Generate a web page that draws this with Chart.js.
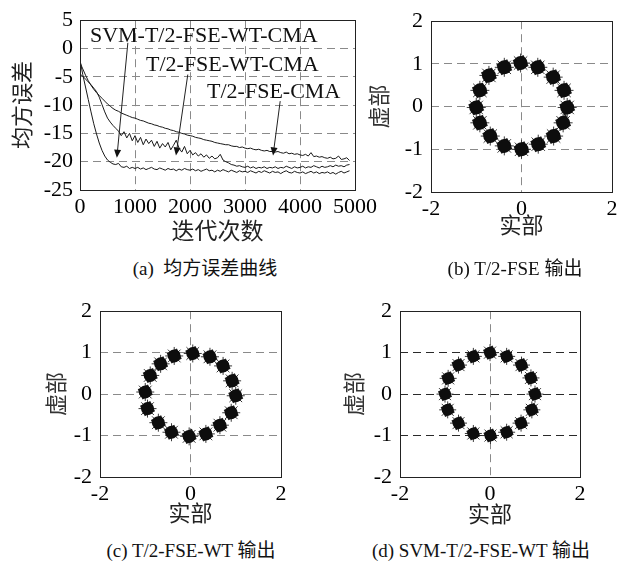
<!DOCTYPE html>
<html>
<head>
<meta charset="utf-8">
<script src="https://cdn.jsdelivr.net/npm/chart.js@4.4.0/dist/chart.umd.min.js"></script>
<style>
  body { margin: 0; background: #fff; width: 627px; height: 561px; position: relative; overflow: hidden; }
  canvas { position: absolute; }
  .cap { position: absolute; font: 19px 'Liberation Serif', 'Noto Sans CJK SC', serif; color: #111;
         white-space: nowrap; transform: translate(-50%, -50%); }
</style>
</head>
<body>
<canvas id="mse" width="385" height="251" style="left:0;top:0"></canvas>
<canvas id="b" width="267" height="244" style="left:360px;top:0"></canvas>
<canvas id="c" width="290" height="242" style="left:20px;top:290px"></canvas>
<canvas id="d" width="300" height="243" style="left:320px;top:290px"></canvas>
<div class="cap" style="left:205px;top:266px">(a)&nbsp;&nbsp;均方误差曲线</div>
<div class="cap" style="left:515px;top:266px">(b) T/2-FSE 输出</div>
<div class="cap" style="left:191px;top:548px">(c) T/2-FSE-WT 输出</div>
<div class="cap" style="left:481px;top:548px">(d) SVM-T/2-FSE-WT 输出</div>
<script>
// iterations (x) for the MSE curves
const iterations = [
  0, 50, 100, 150, 200, 250, 300, 350, 400, 450,
  500, 550, 600, 650, 700, 750, 800, 850, 900, 950,
  1000, 1050, 1100, 1150, 1200, 1250, 1300, 1350, 1400, 1450,
  1500, 1550, 1600, 1650, 1700, 1750, 1800, 1850, 1900, 1950,
  2000, 2050, 2100, 2150, 2200, 2250, 2300, 2350, 2400, 2450,
  2500, 2550, 2600, 2650, 2700, 2750, 2800, 2850, 2900, 2950,
  3000, 3050, 3100, 3150, 3200, 3250, 3300, 3350, 3400, 3450,
  3500, 3550, 3600, 3650, 3700, 3750, 3800, 3850, 3900, 3950,
  4000, 4050, 4100, 4150, 4200, 4250, 4300, 4350, 4400, 4450,
  4500, 4550, 4600, 4650, 4700, 4750, 4800, 4850, 4900
];

// MSE in dB
const mseSvmWt = [
  -2.0, -4.6, -6.8, -9.0, -11.2, -13.3, -15.1, -16.7, -18.0, -19.0,
  -19.7, -20.1, -20.4, -20.5, -20.3, -20.9, -21.0, -20.8, -21.2, -21.0,
  -21.2, -21.0, -21.3, -21.1, -21.4, -21.2, -21.0, -21.3, -21.4, -21.1,
  -21.3, -21.5, -21.2, -21.4, -21.3, -21.6, -21.3, -21.5, -21.2, -21.4,
  -21.5, -21.3, -21.6, -21.4, -21.7, -21.5, -21.3, -21.6, -21.5, -21.8,
  -21.5, -21.7, -21.4, -21.6, -21.8, -21.5, -21.7, -21.9, -21.6, -21.8,
  -21.7, -21.9, -21.6, -21.8, -22.0, -21.7, -21.9, -21.6, -21.8, -22.0,
  -21.7, -21.9, -21.8, -22.1, -21.8, -21.6, -21.9, -22.0, -21.7, -21.9,
  -22.0, -21.8, -22.1, -21.9, -21.7, -22.0, -21.8, -22.1, -21.9, -22.0,
  -21.8, -22.1, -21.9, -22.2, -21.9, -21.7, -22.0, -21.8, -21.6
];
const mseWt = [
  -4.5, -4.9, -5.4, -5.9, -6.4, -7.0, -7.6, -8.6, -9.9, -11.2,
  -12.3, -13.0, -13.6, -14.1, -14.6, -15.4, -14.7, -15.8, -15.0, -16.3,
  -15.4, -16.6, -15.7, -17.0, -16.0, -16.8, -16.2, -17.3, -16.4, -17.6,
  -16.8, -17.4, -16.6, -17.9, -17.1, -16.2, -17.6, -18.3, -17.3, -18.6,
  -18.0, -18.8, -18.4, -19.0, -18.6, -19.2, -18.8, -19.4, -19.0, -19.5,
  -19.3, -18.7, -19.7, -20.0, -20.2, -20.5, -20.6, -20.8, -20.7, -20.9,
  -21.0, -20.8, -21.1, -20.9, -21.2, -21.0, -21.1, -20.9, -21.2, -21.0,
  -21.1, -20.9, -21.2, -21.0, -21.1, -20.8, -21.0, -21.2, -20.9, -21.1,
  -21.0, -20.8, -21.1, -20.9, -21.0, -20.7, -20.9, -21.1, -20.8, -21.0,
  -20.9, -20.7, -20.9, -20.6, -20.8, -20.7, -20.9, -20.6, -20.5
];
const mseCma = [
  -2.5, -3.6, -4.7, -5.7, -6.5, -7.2, -7.8, -8.3, -8.8, -9.3,
  -9.8, -10.2, -10.6, -10.9, -11.1, -11.4, -11.6, -11.8, -12.0, -12.2,
  -12.3, -12.5, -12.7, -12.8, -13.0, -13.2, -13.3, -13.5, -13.6, -13.8,
  -13.9, -14.1, -14.2, -14.4, -14.5, -14.7, -14.8, -15.0, -15.1, -15.3,
  -15.4, -15.5, -15.7, -15.8, -15.9, -16.1, -16.2, -16.3, -16.4, -16.6,
  -16.7, -16.8, -16.9, -17.0, -17.0, -17.2, -17.3, -17.3, -17.5, -17.4,
  -17.6, -17.7, -17.6, -17.8, -17.9, -17.8, -18.0, -18.1, -18.0, -18.2,
  -18.2, -18.3, -18.2, -18.4, -18.5, -18.3, -18.6, -18.5, -18.7, -18.6,
  -18.8, -18.9, -18.7, -19.0, -18.4, -19.1, -19.0, -19.2, -19.1, -19.3,
  -19.4, -19.2, -19.5, -19.4, -19.0, -19.6, -19.5, -19.3, -19.8
];

const mseXTicks = [0, 1000, 2000, 3000, 4000, 5000];
const mseYTicks = [5, 0, -5, -10, -15, -20, -25];

const noteLabels = ['SVM-T/2-FSE-WT-CMA', 'T/2-FSE-WT-CMA', 'T/2-FSE-CMA'];
const noteAt    = [[180, 2.1], [1200, -2.9], [2310, -7.7]];
const arrowFrom = [[870, 1.0], [1960, -4.6], [3640, -9.3]];
const arrowTo   = [[670, -19.3], [1745, -18.9], [3510, -18.9]];

// constellation cluster centres (real, imag)
const fseRe = [-0.02, 0.36, 0.70, 0.94, 1.01, 0.92, 0.71, 0.37, 0.00, -0.38, -0.69, -0.92, -1.00, -0.92, -0.72, -0.38];
const fseIm = [1.02, 0.92, 0.69, 0.38, -0.02, -0.38, -0.69, -0.88, -1.00, -0.92, -0.69, -0.38, -0.02, 0.38, 0.73, 0.92];
const wtRe = [0.05, 0.43, 0.72, 0.92, 1.00, 0.90, 0.65, 0.34, -0.03, -0.42, -0.71, -0.95, -1.00, -0.89, -0.66, -0.36];
const wtIm = [0.98, 0.90, 0.68, 0.32, -0.04, -0.45, -0.75, -0.96, -1.02, -0.92, -0.69, -0.35, 0.05, 0.45, 0.73, 0.92];
const svmRe = [0.00, 0.37, 0.70, 0.91, 1.00, 0.93, 0.69, 0.37, 0.01, -0.37, -0.70, -0.94, -1.00, -0.93, -0.70, -0.37];
const svmIm = [1.00, 0.91, 0.70, 0.39, 0.00, -0.38, -0.70, -0.92, -1.00, -0.95, -0.70, -0.38, 0.00, 0.38, 0.70, 0.91];

const axisTicks = [-2, -1, 0, 1, 2];

const FONT = "'Liberation Serif', 'Noto Sans CJK SC', serif";

const framePlugin = {
  id: 'frame',
  afterDraw(chart) {
    const { ctx, chartArea: a } = chart;
    ctx.save();
    ctx.strokeStyle = '#222';
    ctx.lineWidth = 1;
    ctx.strokeRect(Math.round(a.left) + 0.5, Math.round(a.top) + 0.5,
                   Math.round(a.right - a.left), Math.round(a.bottom - a.top));
    ctx.restore();
  }
};

const notesPlugin = {
  id: 'notes',
  afterDatasetsDraw(chart) {
    const { ctx, scales: { x, y } } = chart;
    ctx.save();
    ctx.fillStyle = '#111';
    ctx.strokeStyle = '#222';
    ctx.lineWidth = 1;
    ctx.font = '22px ' + FONT;
    ctx.textBaseline = 'middle';
    noteLabels.forEach((t, i) => {
      ctx.fillText(t, x.getPixelForValue(noteAt[i][0]), y.getPixelForValue(noteAt[i][1]));
      const x1 = x.getPixelForValue(arrowFrom[i][0]), y1 = y.getPixelForValue(arrowFrom[i][1]);
      const x2 = x.getPixelForValue(arrowTo[i][0]), y2 = y.getPixelForValue(arrowTo[i][1]);
      const ang = Math.atan2(y2 - y1, x2 - x1);
      ctx.beginPath();
      ctx.moveTo(x1, y1);
      ctx.lineTo(x2 - 6 * Math.cos(ang), y2 - 6 * Math.sin(ang));
      ctx.stroke();
      ctx.beginPath();
      ctx.moveTo(x2, y2);
      ctx.lineTo(x2 - 8 * Math.cos(ang) + 3.5 * Math.sin(ang), y2 - 8 * Math.sin(ang) - 3.5 * Math.cos(ang));
      ctx.lineTo(x2 - 8 * Math.cos(ang) - 3.5 * Math.sin(ang), y2 - 8 * Math.sin(ang) + 3.5 * Math.cos(ang));
      ctx.closePath();
      ctx.fill();
    });
    ctx.restore();
  }
};

function gridColor(min, max, col) {
  return c => (c.tick && (c.tick.value === min || c.tick.value === max)) ? 'rgba(0,0,0,0)' : col;
}

const series = [mseSvmWt, mseWt, mseCma];

new Chart(document.getElementById('mse'), {
  type: 'line',
  data: {
    datasets: series.map(s => ({
      data: iterations.map((it, i) => ({ x: it, y: s[i] })),
      borderColor: '#1a1a1a',
      borderWidth: 1,
      pointRadius: 0,
      tension: 0
    }))
  },
  options: {
    responsive: false,
    animation: false,
    devicePixelRatio: 1,
    layout: { padding: { top: 16, right: 30, left: 0, bottom: 0 } },
    plugins: { legend: { display: false }, tooltip: { enabled: false } },
    scales: {
      x: {
        type: 'linear', min: 0, max: 5000,
        afterBuildTicks: s => { s.ticks = mseXTicks.map(v => ({ value: v })); },
        afterFit: s => { s.height = 61; },
        ticks: { color: '#000', font: { family: FONT, size: 22 }, padding: 4, maxRotation: 0, autoSkip: false, callback: v => String(v) },
        grid: { color: gridColor(0, 5000, '#8a8a8a'), drawTicks: false, borderDash: [8, 5] },
        border: { display: false, dash: [8, 5] },
        title: { display: true, text: '迭代次数', color: '#222', font: { family: FONT, size: 23 }, padding: { top: 0, bottom: 4 } }
      },
      y: {
        type: 'linear', min: -25, max: 5,
        afterBuildTicks: s => { s.ticks = mseYTicks.map(v => ({ value: v })); },
        afterFit: s => { s.width = 80; },
        ticks: { color: '#000', font: { family: FONT, size: 22 }, padding: 7, autoSkip: false, callback: v => String(v) },
        grid: { color: gridColor(-25, 5, '#8a8a8a'), drawTicks: false, borderDash: [8, 5] },
        border: { display: false, dash: [8, 5] },
        title: { display: true, text: '均方误差', color: '#222', font: { family: FONT, size: 22 }, padding: { top: 11, bottom: 0 } }
      }
    }
  },
  plugins: [framePlugin, notesPlugin]
});

function constellation(id, re, im, opt) {
  const pts = re.map((v, i) => ({ x: v, y: im[i] }));
  new Chart(document.getElementById(id), {
    type: 'scatter',
    data: {
      datasets: [
        { data: pts, pointStyle: 'circle', pointRadius: opt.core, backgroundColor: '#0d0d0d', borderWidth: 0 },
        { data: pts, pointStyle: 'star', pointRadius: opt.fringe, borderColor: '#3a3a3a', borderWidth: 1, backgroundColor: '#333' },
        { data: pts, pointStyle: 'rectRot', pointRadius: opt.core + 1.5, backgroundColor: '#1a1a1a', borderWidth: 0, rotation: 20 }
      ]
    },
    options: {
      responsive: false,
      animation: false,
      devicePixelRatio: 1,
      layout: { padding: { top: opt.top, right: opt.right, left: 0, bottom: 0 } },
      plugins: { legend: { display: false }, tooltip: { enabled: false } },
      scales: {
        x: {
          type: 'linear', min: -2, max: 2,
          afterBuildTicks: s => { s.ticks = [-2, 0, 2].map(v => ({ value: v })); },
          afterFit: s => { s.height = opt.xh; },
          ticks: { color: '#000', font: { family: FONT, size: 22 }, padding: 4, maxRotation: 0, autoSkip: false, callback: v => String(v) },
          grid: { color: gridColor(-2, 2, '#8a8a8a'), drawTicks: false, borderDash: [8, 5] },
          border: { display: false, dash: [8, 5] },
          title: { display: true, text: '实部', color: '#222', font: { family: FONT, size: 22 }, padding: { top: 0, bottom: 4 } }
        },
        y: {
          type: 'linear', min: -2, max: 2,
          afterBuildTicks: s => { s.ticks = axisTicks.map(v => ({ value: v })); },
          afterFit: s => { s.width = opt.yw; },
          ticks: { color: '#000', font: { family: FONT, size: 22 }, padding: 8, autoSkip: false, callback: v => String(v) },
          grid: { color: gridColor(-2, 2, opt.hgrid), drawTicks: false, borderDash: [8, 5] },
          border: { display: false, dash: [8, 5] },
          title: { display: true, text: '虚部', color: '#333', font: { family: FONT, size: 22 }, padding: { top: opt.ytp, bottom: 0 } }
        }
      }
    },
    plugins: [framePlugin]
  });
}

constellation('b', fseRe, fseIm, { core: 7, fringe: 9.5, top: 18, right: 15, xh: 52, yw: 71, ytp: 8, hgrid: '#8a8a8a' });
constellation('c', wtRe, wtIm, { core: 6.5, fringe: 9, top: 14, right: 29, xh: 55, yw: 80, ytp: 25, hgrid: '#8a8a8a' });
constellation('d', svmRe, svmIm, { core: 6, fringe: 8.5, top: 13, right: 40, xh: 56, yw: 80, ytp: 23, hgrid: '#2a2a2a' });
</script>
</body>
</html>
